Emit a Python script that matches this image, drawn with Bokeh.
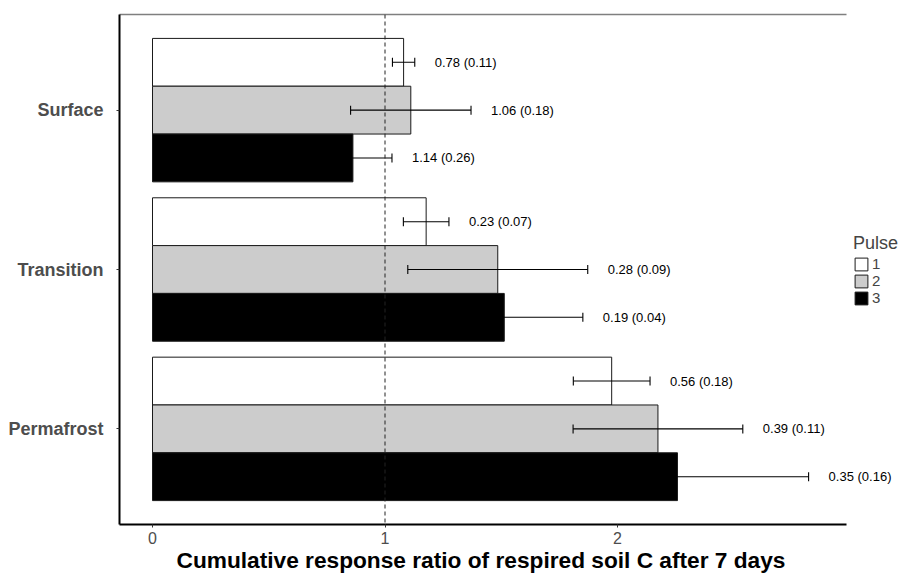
from bokeh.plotting import figure
from bokeh.models import (ColumnDataSource, FactorRange, Range1d, Whisker, TeeHead,
                          Span, Legend, LegendItem, LinearAxis, FixedTicker, LabelSet, Title)
from bokeh.transform import dodge
from bokeh.core.properties import value
from bokeh.embed import file_html
from bokeh.resources import INLINE

# ---- data ----
categories = ["Surface", "Transition", "Permafrost"]
pulses = ["1", "2", "3"]
mean_p1 = [1.080, 1.177, 1.975]
mean_p2 = [1.111, 1.485, 2.174]
mean_p3 = [0.862, 1.513, 2.258]
err_p1 = [0.048, 0.098, 0.165]
err_p2 = [0.259, 0.387, 0.365]
err_p3 = [0.168, 0.338, 0.564]
labels_p1 = ["0.78 (0.11)", "0.23 (0.07)", "0.56 (0.18)"]
labels_p2 = ["1.06 (0.18)", "0.28 (0.09)", "0.39 (0.11)"]
labels_p3 = ["1.14 (0.26)", "0.19 (0.04)", "0.35 (0.16)"]
x_ticks = [0, 1, 2]
ref_line = 1
x_title = "Cumulative response ratio of respired soil C after 7 days"
legend_title = "Pulse"

FONT = "Liberation Sans"
X_LO, X_PANEL_HI, X_HI = -0.142, 2.984, 3.213

p = figure(
    y_range=FactorRange(factors=categories[::-1], range_padding=0.1,
                        range_padding_units="absolute"),
    x_range=Range1d(X_LO, X_HI),
    frame_width=780, frame_height=510,
    min_border_left=119, min_border_top=14, min_border_right=0, min_border_bottom=0,
    output_backend="svg", toolbar_location=None,
)
p.outline_line_color = None
p.xgrid.visible = False
p.ygrid.visible = False
p.background_fill_color = "white"

# x axis (bottom)
xa = p.below[0]
xa.ticker = FixedTicker(ticks=x_ticks)
xa.bounds = (X_LO, X_PANEL_HI)
xa.major_label_text_font = FONT
xa.major_label_text_font_size = "16px"
xa.major_label_text_color = "#4d4d4d"
xa.major_label_standoff = 4
xa.axis_line_color = "black"
xa.axis_line_width = 1.8
xa.major_tick_out = 3
xa.major_tick_in = 0
xa.major_tick_line_color = "#333333"
xa.minor_tick_line_color = None

# x axis title, placed over the panel (not the wider frame)
xt = Title(text=x_title, align="left", offset=57, standoff=0, vertical_align="top",
           text_font=FONT, text_font_style="bold", text_font_size="22.7px",
           text_color="black")
p.add_layout(xt, "below")

# y axis
ya = p.left[0]
ya.major_label_text_font = FONT
ya.major_label_text_font_style = "bold"
ya.major_label_text_font_size = "18px"
ya.major_label_text_color = "#4d4d4d"
ya.major_label_standoff = 13
ya.axis_line_color = "black"
ya.axis_line_width = 2
ya.major_tick_out = 3
ya.major_tick_in = 0
ya.major_tick_line_color = "#333333"

# top border line
top = LinearAxis(ticker=FixedTicker(ticks=[]), bounds=(X_LO, X_PANEL_HI),
                 axis_line_color="#7f7f7f",
                 axis_line_width=1.6, major_tick_line_color=None,
                 minor_tick_line_color=None, major_label_text_font_size="0px",
                 major_tick_out=0, major_label_standoff=0)
p.add_layout(top, "above")

series = [
    (pulses[0], mean_p1, err_p1, labels_p1, "#ffffff", 0.3),
    (pulses[1], mean_p2, err_p2, labels_p2, "#cccccc", 0.0),
    (pulses[2], mean_p3, err_p3, labels_p3, "#000000", -0.3),
]

items = []
annots = []
for name, means, errs, labs, color, off in series:
    src = ColumnDataSource(dict(
        cat=categories,
        mean=means,
        lo=[m - e for m, e in zip(means, errs)],
        hi=[m + e for m, e in zip(means, errs)],
        lab=labs,
    ))
    yd = dodge("cat", off, range=p.y_range)
    r = p.hbar(y=yd, left=0, right="mean", height=0.3, source=src,
               fill_color=color, line_color="#1a1a1a", line_width=1)
    items.append(LegendItem(label=name, renderers=[r]))
    annots.append(Whisker(base=yd, lower="lo", upper="hi", dimension="width", source=src,
                          line_color="black", line_width=1.1, level="annotation",
                          upper_head=TeeHead(size=9, line_color="black", line_width=1.1),
                          lower_head=TeeHead(size=9, line_color="black", line_width=1.1)))
    annots.append(LabelSet(x="hi", y=yd, text="lab", source=src, x_offset=20,
                           text_align="left", text_baseline="middle",
                           text_font=value(FONT), text_font_size=value("13px"),
                           text_color="black", level="annotation"))

for a in annots:
    p.add_layout(a)

p.add_layout(Span(location=ref_line, dimension="height", line_color="#222222",
                  line_width=1, line_dash="4 3"))

legend = Legend(items=items, title=legend_title, location=(734, 218),
                title_text_font=FONT, title_text_font_size="18px",
                title_text_font_style="normal", title_standoff=1,
                label_text_font=FONT, label_text_font_size="15px",
                glyph_width=16, glyph_height=16, label_height=16,
                spacing=0, padding=0, margin=0, label_standoff=3,
                background_fill_alpha=0, border_line_alpha=0)
p.add_layout(legend)

open("out.html", "w").write(file_html(p, INLINE))
